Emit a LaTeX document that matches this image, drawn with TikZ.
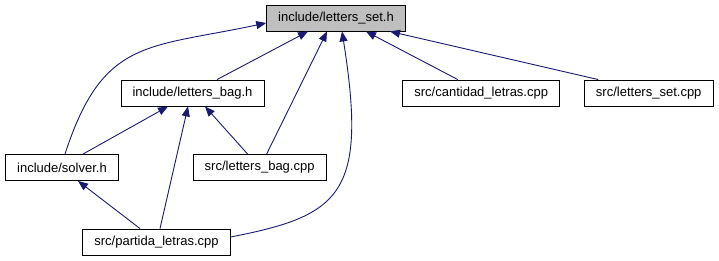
\documentclass[tikz,border=0pt]{standalone}
\usepackage{fontspec}
\setmainfont{Liberation Sans}
\usetikzlibrary{arrows.meta,positioning}

\definecolor{edgeblue}{HTML}{191970}

\begin{document}
\begin{tikzpicture}[
  x=1pt, y=1pt,
  node distance=48pt and 24pt,
  file/.style={draw, line width=0.9pt, inner xsep=11.5pt, inner ysep=0pt, minimum height=26pt, font=\fontsize{13}{15}\selectfont},
  root/.style={file, fill=black!25},
  dep/.style={-{Triangle[length=10pt,width=8pt]}, line width=0.9pt, draw=edgeblue}
]
  \useasboundingbox (0,0) rectangle (719,-261);

  \node[root] (set) at (336,-18) {include/letters\_set.h};
  \node[file] (bag) at (192.5,-93) {include/letters\_bag.h};
  \node[file, right=138pt of bag] (cant) {src/cantidad\_letras.cpp};
  \node[file, right=of cant] (setcpp) {src/letters\_set.cpp};
  \node[file] (solver) at (62,-167.5) {include/solver.h};
  \node[file, right=74pt of solver] (bagcpp) {src/letters\_bag.cpp};
  \node[file] (partida) at (156.5,-242) {src/partida\_letras.cpp};

  % everything that includes letters_set.h
  \draw[dep] ([xshift=3pt]solver.north) to[out=72, in=192, looseness=1.3] ([yshift=-5pt]set.west);
  \draw[dep] ([xshift=24.5pt]bag.north) -- ([xshift=-28pt]set.south);
  \draw[dep] ([xshift=7pt]bagcpp.north) -- ([xshift=-9pt]set.south);
  \draw[dep] ([yshift=5pt]partida.east) to[out=11, in=-81, out distance=112pt, in distance=165pt] ([xshift=6pt]set.south);
  \draw[dep] ([xshift=-23.5pt]cant.north) -- ([xshift=30pt]set.south);
  \draw[dep] ([xshift=-50.5pt]setcpp.north) -- ([xshift=54pt]set.south);

  % letters_bag.h and solver.h
  \draw[dep] ([xshift=21pt]solver.north) -- ([xshift=-24.5pt]bag.south);
  \draw[dep] ([xshift=3.5pt]partida.north) -- ([xshift=-4.5pt]bag.south);
  \draw[dep] ([xshift=-12pt]bagcpp.north) -- ([xshift=12.5pt]bag.south);
  \draw[dep] ([xshift=-16.5pt]partida.north) -- ([xshift=16pt]solver.south);
\end{tikzpicture}
\end{document}
